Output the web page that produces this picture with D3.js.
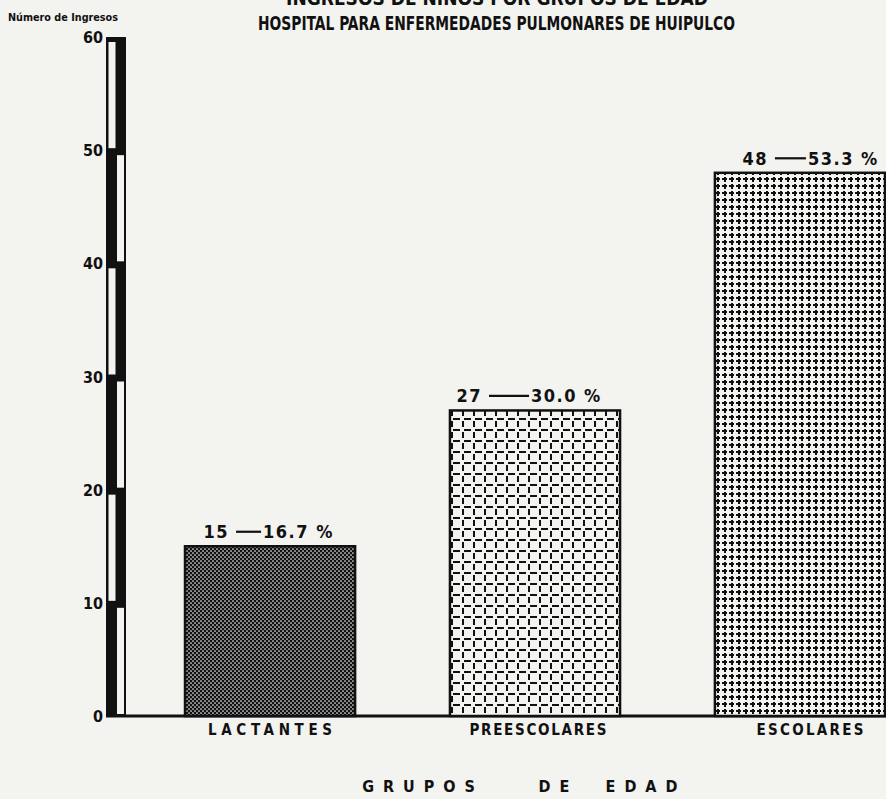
<!DOCTYPE html>
<html>
<head>
<meta charset="utf-8">
<script src="https://cdn.jsdelivr.net/npm/d3@7"></script>
<style>
  html, body { margin: 0; padding: 0; background: #f3f3f0; }
  svg { display: block; }
  text { font-family: "DejaVu Sans Condensed", "DejaVu Sans", sans-serif; font-weight: bold; fill: #111; }
</style>
</head>
<body>
<svg id="chart" width="886" height="799"></svg>
<script>
"use strict";

// data
const categories = ["LACTANTES", "PREESCOLARES", "ESCOLARES"];
const admissions = [15, 27, 48];
const percents = ["16.7 %", "30.0 %", "53.3 %"];
const yTicks = [0, 10, 20, 30, 40, 50, 60];
const axisWords = ["GRUPOS", "DE", "EDAD"];
const patternIds = ["dots", "grid", "plus"];

// lettering widths and nudges measured on the scan
const catWidths = [124, 137, 107];
const catShift = [0, 3, 10];
const dashFrom = [-34, -46, -25];
const dashTo = [-9, -6, 6];

const paper = "#f3f3f0";
const ink = "#111";

const svg = d3.select("#chart");
const defs = svg.append("defs");

const x = d3.scaleBand()
    .domain(categories)
    .range([185, 885])
    .paddingInner(0.358);

const y = d3.scaleLinear()
    .domain([0, 60])
    .range([716, 37]);

const mid = d => x(d) + x.bandwidth() / 2;

// fill patterns, one per bar
const dots = defs.append("pattern")
    .attr("id", "dots").attr("patternUnits", "userSpaceOnUse")
    .attr("width", 4).attr("height", 4);
dots.append("rect").attr("width", 4).attr("height", 4).attr("fill", ink);
dots.append("circle").attr("cx", 1).attr("cy", 1).attr("r", 0.85).attr("fill", paper);
dots.append("circle").attr("cx", 3).attr("cy", 3).attr("r", 0.85).attr("fill", paper);

const grid = defs.append("pattern")
    .attr("id", "grid").attr("patternUnits", "userSpaceOnUse")
    .attr("width", 11).attr("height", 11);
grid.append("rect").attr("width", 11).attr("height", 11).attr("fill", paper);
grid.append("rect").attr("x", 2).attr("y", 0).attr("width", 7).attr("height", 2).attr("fill", ink);
grid.append("rect").attr("x", 0).attr("y", 3).attr("width", 2).attr("height", 6).attr("fill", ink);

const plus = defs.append("pattern")
    .attr("id", "plus").attr("patternUnits", "userSpaceOnUse")
    .attr("width", 7).attr("height", 7);
plus.append("rect").attr("width", 7).attr("height", 7).attr("fill", paper);
plus.append("rect").attr("x", 1).attr("y", 3).attr("width", 5).attr("height", 2)
    .attr("fill", ink).attr("shape-rendering", "crispEdges");
plus.append("rect").attr("x", 2.5).attr("y", 1.5).attr("width", 2).attr("height", 5)
    .attr("fill", ink).attr("shape-rendering", "crispEdges");

// titles (the first line is cut by the page edge in the scan)
svg.append("text")
    .attr("x", 497).attr("y", 5)
    .attr("text-anchor", "middle")
    .attr("font-size", 19)
    .text("INGRESOS DE NIÑOS POR GRUPOS DE EDAD");

svg.append("text")
    .attr("x", 258).attr("y", 30)
    .attr("font-size", 20)
    .attr("textLength", 477)
    .attr("lengthAdjust", "spacingAndGlyphs")
    .text("HOSPITAL PARA ENFERMEDADES PULMONARES DE HUIPULCO");

svg.append("text")
    .attr("x", 8).attr("y", 21)
    .attr("font-size", 10)
    .attr("textLength", 110)
    .attr("lengthAdjust", "spacingAndGlyphs")
    .text("Número de Ingresos");

// the y axis: a black bar with alternating white strips
const axisG = svg.append("g");
axisG.append("rect")
    .attr("x", 106).attr("y", y(60))
    .attr("width", 20).attr("height", y(0) - y(60))
    .attr("fill", ink);

const bands = d3.range(0, 60, 10);
axisG.selectAll("rect.strip")
    .data(bands)
    .join("rect")
    .attr("class", "strip")
    .attr("x", d => (d / 10) % 2 === 0 ? 117 : 108.5)
    .attr("y", d => y(d + 10) + 5)
    .attr("width", 7)
    .attr("height", d => y(d) - y(d + 10) - 7)
    .attr("fill", paper);

axisG.selectAll("text")
    .data(yTicks)
    .join("text")
    .attr("x", 103)
    .attr("y", d => y(d) + 6)
    .attr("text-anchor", "end")
    .attr("font-size", 16)
    .text(d => d);

// baseline
svg.append("line")
    .attr("x1", 106).attr("x2", 886)
    .attr("y1", y(0)).attr("y2", y(0))
    .attr("stroke", ink).attr("stroke-width", 3);

// bars
svg.selectAll("rect.bar")
    .data(categories)
    .join("rect")
    .attr("class", "bar")
    .attr("x", d => x(d))
    .attr("y", (d, i) => y(admissions[i]))
    .attr("width", x.bandwidth())
    .attr("height", (d, i) => y(0) - y(admissions[i]))
    .attr("fill", (d, i) => `url(#${patternIds[i]})`)
    .attr("stroke", ink)
    .attr("stroke-width", 2.5);

// value labels above bars: count, a rule, then the percentage
const labels = svg.selectAll("g.value")
    .data(categories)
    .join("g")
    .attr("class", "value")
    .attr("transform", (d, i) => `translate(${mid(d)},${y(admissions[i]) - 8})`);

labels.append("text")
    .attr("x", (d, i) => dashFrom[i] - 7)
    .attr("text-anchor", "end")
    .attr("font-size", 18)
    .attr("letter-spacing", 1.5)
    .text((d, i) => admissions[i]);

labels.append("line")
    .attr("x1", (d, i) => dashFrom[i])
    .attr("x2", (d, i) => dashTo[i])
    .attr("y1", -6.5).attr("y2", -6.5)
    .attr("stroke", ink).attr("stroke-width", 2.2);

labels.append("text")
    .attr("x", (d, i) => dashTo[i] + 2)
    .attr("font-size", 18)
    .attr("letter-spacing", 1.5)
    .text((d, i) => percents[i]);

// category labels
svg.selectAll("text.cat")
    .data(categories)
    .join("text")
    .attr("class", "cat")
    .attr("x", (d, i) => mid(d) + catShift[i] - catWidths[i] / 2)
    .attr("y", 735)
    .attr("font-size", 15)
    .attr("font-weight", "normal")
    .attr("textLength", (d, i) => catWidths[i])
    .attr("lengthAdjust", "spacing")
    .text(d => d);

const wordX = d3.scalePoint()
    .domain(axisWords)
    .range([423, 646]);

svg.selectAll("text.word")
    .data(axisWords)
    .join("text")
    .attr("class", "word")
    .attr("x", d => wordX(d) + (d === "DE" ? 24 : 0))
    .attr("y", 792)
    .attr("text-anchor", "middle")
    .attr("font-size", 16)
    .attr("letter-spacing", 9)
    .text(d => d);
</script>
</body>
</html>
